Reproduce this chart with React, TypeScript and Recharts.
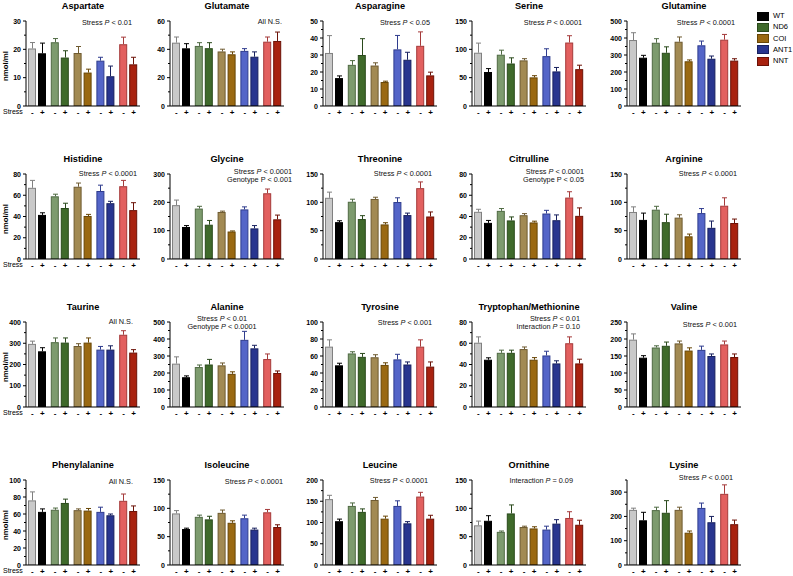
import React from 'react';
import { BarChart, Bar, XAxis, YAxis } from 'recharts';

const FONT = '"Liberation Sans", Arial, sans-serif';

const genotypes = ['WT', 'ND6', 'COI', 'ANT1', 'NNT'];
const ctrlFill = ['#c9c9c9', '#7d9b6e', '#a28a53', '#5465c8', '#e2605f'];
const ctrlStroke = ['#808080', '#4f6a43', '#6e5a30', '#2f3c8e', '#a53a3a'];
const stressFill = ['#000000', '#3f6a2b', '#9a6912', '#28358f', '#a8220f'];
const stressStroke = ['#000000', '#2a4a1c', '#684606', '#18215f', '#6c1207'];

// values in bar order: WT-, WT+, ND6-, ND6+, COI-, COI+, ANT1-, ANT1+, NNT-, NNT+
const aspartateMean = [20.3, 18.6, 22.5, 17.1, 18.7, 11.8, 16.0, 10.5, 21.8, 14.7];
const aspartateSem = [2.1, 3.6, 1.3, 2.4, 2.3, 1.2, 1.2, 3.6, 2.5, 2.5];
const glutamateMean = [44.7, 40.7, 42.4, 40.8, 38.5, 36.5, 38.9, 34.8, 45.4, 45.9];
const glutamateSem = [4.0, 3.3, 2.3, 3.9, 1.6, 1.7, 1.6, 3.4, 3.3, 6.3];
const asparagineMean = [31.2, 16.4, 24.2, 30.0, 23.8, 14.1, 33.3, 27.2, 35.4, 18.0];
const asparagineSem = [10.2, 1.3, 2.5, 9.6, 1.6, 0.5, 8.2, 4.4, 8.2, 1.9];
const serineMean = [94, 60, 90.5, 75, 80.5, 50.5, 88, 61, 112, 65];
const serineSem = [17, 6, 8, 10, 3, 3, 13, 7, 12, 7];
const glutamineMean = [388, 284, 372, 313, 378, 263, 357, 278, 390, 267];
const glutamineSem = [43, 14, 24, 35, 28, 8, 25, 16, 31, 11];

const histidineMean = [67, 41.5, 59, 48, 68, 40.5, 64, 52.5, 68.5, 46];
const histidineSem = [7, 2, 2, 4.5, 3.5, 1.5, 5.5, 1.8, 5.5, 7];
const glycineMean = [190, 113, 178, 121, 166, 97, 175, 108, 232, 140];
const glycineSem = [18, 5, 8, 15, 3, 2, 9, 10, 15, 15];
const threonineMean = [108, 65, 101, 70.5, 106, 61, 100.5, 77.5, 125, 75];
const threonineSem = [10, 2.5, 4.5, 6, 3, 3, 7.5, 3.5, 11, 8];
const citrullineMean = [44.4, 34, 45.3, 36.3, 41.2, 34.4, 42.8, 36.5, 57.8, 40.6];
const citrullineSem = [2.4, 2.3, 2.2, 3.3, 1.5, 1.2, 3.0, 5.0, 5.5, 7.5];
const arginineMean = [83, 69, 87, 65, 73, 40, 81, 55, 94, 63.5];
const arginineSem = [9, 12, 6, 14, 5, 4, 8, 12, 14, 7];

const taurineMean = [297, 262, 305, 303, 287, 303, 270, 270, 340, 256];
const taurineSem = [13, 17, 20, 22, 11, 22, 15, 18, 19, 14];
const alanineMean = [255, 175, 235, 250, 245, 195, 395, 345, 282, 200];
const alanineSem = [40, 8, 12, 30, 14, 12, 50, 18, 30, 12];
const tyrosineMean = [71, 49, 63, 59, 58.5, 49.5, 56, 50, 71, 47.5];
const tyrosineSem = [8, 2.5, 2, 4, 3, 2.5, 6, 3, 8, 5.5];
const trpMetMean = [60.5, 44.5, 51, 51, 54.5, 44.5, 48.5, 41, 60, 41];
const trpMetSem = [5.5, 1.8, 2.5, 2.5, 2, 2, 4, 2.5, 6, 4];
const valineMean = [198, 145, 175, 180, 187, 166, 168, 150, 184, 147];
const valineSem = [17, 6, 5, 11, 7, 8, 11, 6, 10, 9];

const phenylalanineMean = [76, 62.5, 65, 73, 64.5, 64, 62.5, 58.5, 75.5, 63.5];
const phenylalanineSem = [10, 3.5, 2, 4.5, 1.5, 2.5, 5.5, 1.5, 8, 6];
const isoleucineMean = [91, 63.5, 85, 80.5, 92, 74.5, 82.5, 62.5, 93, 67];
const isoleucineSem = [5, 1.5, 3, 5.5, 5, 3.5, 5.5, 2.5, 5, 4];
const leucineMean = [155, 103, 139, 125, 153, 109, 139, 98, 161, 109];
const leucineSem = [9, 5, 7, 7, 6, 6, 12, 4, 10, 8];
const ornithineMean = [70, 78, 58.5, 91, 67, 64.5, 62.5, 73, 83, 71];
const ornithineSem = [7.5, 9, 1.5, 15, 1.5, 3, 6, 7, 11, 8];
const lysineMean = [227, 184, 226, 215, 227, 133, 235, 176, 293, 168];
const lysineSem = [7, 33, 12, 50, 11, 7, 20, 24, 37, 17];

// layout
const colX = [26, 170, 323, 472, 627];
const rowTop = [21, 174, 322, 480];
const PLOT_W = 114;
const PLOT_H = 85;
const Y_W = 30;
const M_TOP = 6;
const X_H = 14;

type PanelDef = {
  title: string;
  mean: number[];
  sem: number[];
  max: number;
  step: number;
  notes: string[];
  right?: number;
  center?: number;
  ny: number;
};

// *P* marks italic
const panels: PanelDef[] = [
  { title: 'Aspartate', mean: aspartateMean, sem: aspartateSem, max: 30, step: 10, notes: ['Stress *P* < 0.01'], right: 106, ny: 2 },
  { title: 'Glutamate', mean: glutamateMean, sem: glutamateSem, max: 60, step: 20, notes: ['All N.S.'], right: 112, ny: 1 },
  { title: 'Asparagine', mean: asparagineMean, sem: asparagineSem, max: 50, step: 10, notes: ['Stress *P* < 0.05'], right: 107, ny: 2 },
  { title: 'Serine', mean: serineMean, sem: serineSem, max: 150, step: 50, notes: ['Stress *P* < 0.0001'], right: 110, ny: 2 },
  { title: 'Glutamine', mean: glutamineMean, sem: glutamineSem, max: 500, step: 100, notes: ['Stress *P* < 0.0001'], right: 108, ny: 2 },

  { title: 'Histidine', mean: histidineMean, sem: histidineSem, max: 80, step: 20, notes: ['Stress *P* < 0.0001'], right: 111, ny: 0 },
  { title: 'Glycine', mean: glycineMean, sem: glycineSem, max: 300, step: 100, notes: ['Stress *P* < 0.0001', 'Genotype P < 0.001'], right: 122, ny: -2 },
  { title: 'Threonine', mean: threonineMean, sem: threonineSem, max: 150, step: 50, notes: ['Stress *P* < 0.0001'], right: 109, ny: 0 },
  { title: 'Citrulline', mean: citrullineMean, sem: citrullineSem, max: 80, step: 20, notes: ['Stress *P* < 0.0001', 'Genotype P < 0.05'], right: 112, ny: -2 },
  { title: 'Arginine', mean: arginineMean, sem: arginineSem, max: 150, step: 50, notes: ['Stress *P* < 0.0001'], right: 110, ny: 0 },

  { title: 'Taurine', mean: taurineMean, sem: taurineSem, max: 400, step: 100, notes: ['All N.S.'], right: 107, ny: 0 },
  { title: 'Alanine', mean: alanineMean, sem: alanineSem, max: 500, step: 100, notes: ['Stress *P* < 0.01', 'Genotype *P* < 0.0001'], center: 52, ny: -3 },
  { title: 'Tyrosine', mean: tyrosineMean, sem: tyrosineSem, max: 100, step: 20, notes: ['Stress *P* < 0.001'], right: 109, ny: 1 },
  { title: 'Tryptophan/Methionine', mean: trpMetMean, sem: trpMetSem, max: 80, step: 20, notes: ['Stress *P* < 0.01', 'Interaction *P* = 0.10'], right: 108, ny: -3 },
  { title: 'Valine', mean: valineMean, sem: valineSem, max: 250, step: 50, notes: ['Stress *P* < 0.001'], right: 110, ny: 3 },

  { title: 'Phenylalanine', mean: phenylalanineMean, sem: phenylalanineSem, max: 100, step: 20, notes: ['All N.S.'], right: 107, ny: 2 },
  { title: 'Isoleucine', mean: isoleucineMean, sem: isoleucineSem, max: 150, step: 50, notes: ['Stress *P* < 0.0001'], right: 113, ny: 2 },
  { title: 'Leucine', mean: leucineMean, sem: leucineSem, max: 200, step: 50, notes: ['Stress *P* < 0.0001'], right: 105, ny: 1 },
  { title: 'Ornithine', mean: ornithineMean, sem: ornithineSem, max: 150, step: 50, notes: ['Interaction *P* = 0.09'], right: 101, ny: 1 },
  { title: 'Lysine', mean: lysineMean, sem: lysineSem, max: 350, step: 100, notes: ['Stress *P* < 0.001'], right: 106, ny: -2 },
];

function noteText(s: string) {
  return s.split('*').map((part, i) =>
    i % 2 === 1 ? <i key={i}>{part}</i> : <span key={i}>{part}</span>
  );
}

function makeShape(kind: number) {
  return (p: any) => {
    const { x, y, width, height, payload } = p;
    if (width == null || height == null) return <g />;
    const gi = payload.gi;
    const fill = kind ? stressFill[gi] : ctrlFill[gi];
    const stroke = kind ? stressStroke[gi] : ctrlStroke[gi];
    const v = kind ? payload.plus : payload.minus;
    const e = kind ? payload.plusErr : payload.minusErr;
    const ePx = v > 0 ? (e * height) / v : 0;
    const cx = Math.round(x + width / 2) + 0.5;
    const top = y - ePx;
    return (
      <g>
        <line x1={cx} x2={cx} y1={y} y2={top} stroke={stroke} strokeWidth={1} />
        <line x1={cx - 2.5} x2={cx + 2.5} y1={top} y2={top} stroke={stroke} strokeWidth={1} />
        <rect x={x + 0.5} y={y + 0.5} width={width - 1} height={Math.max(height - 0.5, 0)} fill={fill} stroke={stroke} strokeWidth={1} />
      </g>
    );
  };
}

const ctrlShape = makeShape(0);
const stressShape = makeShape(1);

function XTick(p: any) {
  const { x, y } = p;
  return (
    <g>
      <text x={x - 5} y={y + 6} textAnchor="middle" dominantBaseline="central" fontFamily={FONT} fontSize={8} fontWeight="bold" fill="#000">-</text>
      <text x={x + 5} y={y + 6} textAnchor="middle" dominantBaseline="central" fontFamily={FONT} fontSize={8} fontWeight="bold" fill="#000">+</text>
    </g>
  );
}

function Panel({ p, idx }: { p: PanelDef; idx: number }) {
  const col = idx % 5;
  const row = Math.floor(idx / 5);
  const ax = colX[col];
  const top = rowTop[row];
  const data = genotypes.map((g, i) => ({
    g,
    gi: i,
    minus: p.mean[2 * i],
    plus: p.mean[2 * i + 1],
    minusErr: p.sem[2 * i],
    plusErr: p.sem[2 * i + 1],
  }));
  const half = p.step / 2;
  const ticks: number[] = [];
  for (let v = 0; v <= p.max + 1e-9; v += half) ticks.push(v);

  const yTick = (t: any) => {
    const major = t.payload.value % p.step === 0;
    return (
      <g>
        <line x1={Y_W - (major ? 3 : 2)} x2={Y_W} y1={t.y} y2={t.y} stroke="#000" strokeWidth={1} />
        {major && (
          <text x={Y_W - 5} y={t.y} textAnchor="end" dominantBaseline="central" fontFamily={FONT} fontSize={7} fontWeight="bold" fill="#000">
            {t.payload.value}
          </text>
        )}
      </g>
    );
  };

  return (
    <>
      <div style={{ position: 'absolute', left: ax, top: top - 21, width: PLOT_W, textAlign: 'center', fontFamily: FONT, fontWeight: 'bold', fontSize: 9.2, lineHeight: '12px', whiteSpace: 'nowrap' }}>
        {p.title}
      </div>
      {p.notes.map((n, i) => {
        const cy = top + p.ny + i * 8;
        const st: React.CSSProperties = { position: 'absolute', top: cy - 5, fontFamily: FONT, fontSize: 7.3, lineHeight: '10px', whiteSpace: 'nowrap', color: '#111' };
        if (p.center != null) {
          return <div key={i} style={{ ...st, left: ax + p.center - 60, width: 120, textAlign: 'center' }}>{noteText(n)}</div>;
        }
        return <div key={i} style={{ ...st, left: ax + (p.right ?? 108) - 150, width: 150, textAlign: 'right' }}>{noteText(n)}</div>;
      })}
      <div style={{ position: 'absolute', left: ax - Y_W, top: top - M_TOP }}>
        <BarChart
          width={Y_W + PLOT_W + 2}
          height={M_TOP + PLOT_H + X_H}
          data={data}
          margin={{ top: M_TOP, right: 2, bottom: 0, left: 0 }}
          barCategoryGap={2}
          barGap={2}
        >
          <XAxis dataKey="g" height={X_H} tickSize={0} tickMargin={0} tickLine={false} axisLine={{ stroke: '#000' }} tick={XTick} interval={0} />
          <YAxis type="number" domain={[0, p.max]} ticks={ticks} interval={0} width={Y_W} tickLine={false} tickSize={3} tickMargin={2} axisLine={{ stroke: '#000' }} tick={yTick} allowDataOverflow />
          <Bar dataKey="minus" shape={ctrlShape} isAnimationActive={false} />
          <Bar dataKey="plus" shape={stressShape} isAnimationActive={false} />
        </BarChart>
      </div>
      {col === 0 && (
        <>
          <div style={{ position: 'absolute', left: 3, top: top + PLOT_H + 1, fontFamily: FONT, fontSize: 7, lineHeight: '10px' }}>Stress</div>
          <div style={{ position: 'absolute', left: 5.5 - 30, top: top + PLOT_H / 2 + 2 - 5, width: 60, textAlign: 'center', transform: 'rotate(-90deg)', fontFamily: FONT, fontSize: 7.8, fontWeight: 'bold', lineHeight: '10px' }}>
            nmol/ml
          </div>
        </>
      )}
    </>
  );
}

function Legend() {
  return (
    <>
      {genotypes.map((g, i) => (
        <div key={g} style={{ position: 'absolute', left: 757, top: 16 + i * 11.3 - 5 }}>
          <div style={{ position: 'absolute', left: 0, top: 0.5, width: 12, height: 9, boxSizing: 'border-box', background: stressFill[i], border: `1px solid ${stressStroke[i]}` }} />
          <div style={{ position: 'absolute', left: 16, top: 0, fontFamily: FONT, fontSize: 7.5, lineHeight: '10px', whiteSpace: 'nowrap' }}>{g}</div>
        </div>
      ))}
    </>
  );
}

export default function App() {
  return (
    <div style={{ position: 'absolute', left: 0, top: 0, width: 793, height: 576, background: '#fff', overflow: 'hidden' }}>
      {panels.map((p, i) => (
        <Panel key={p.title} p={p} idx={i} />
      ))}
      <Legend />
    </div>
  );
}
